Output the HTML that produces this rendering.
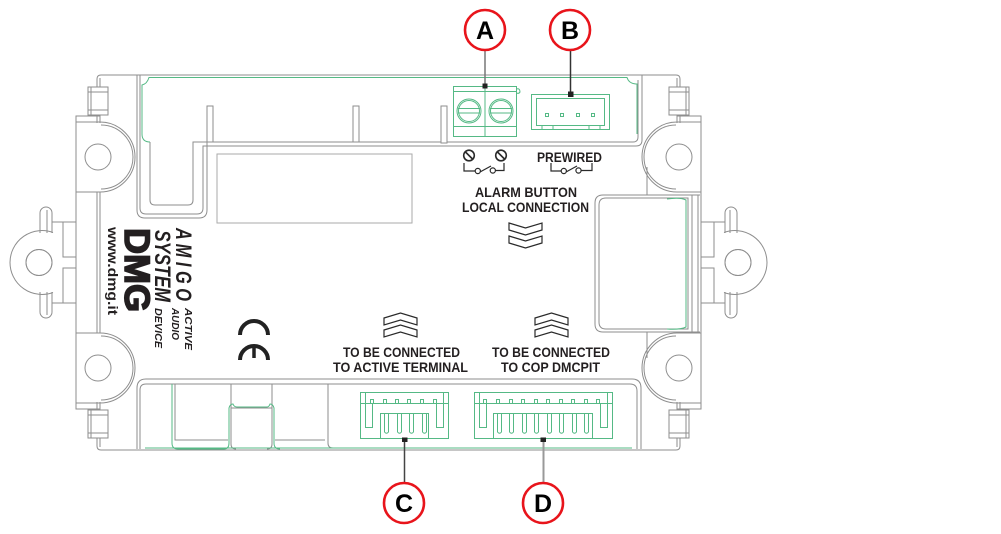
<!DOCTYPE html>
<html><head><meta charset="utf-8"><style>
html,body{margin:0;padding:0;background:#fff;}
svg{display:block;}
text{font-family:"Liberation Sans",Arial,sans-serif;}
</style></head><body>
<svg width="1001" height="534" viewBox="0 0 1001 534" xmlns="http://www.w3.org/2000/svg">
<defs>
<g id="q" fill="none" stroke="#8e8e8e" stroke-width="1">
  <path d="M101,75 H389"/>
  <path d="M97,123 V79 Q97,75 101,75"/>
  <path d="M100,123 V78"/>
  <rect x="88" y="87" width="20" height="28" fill="#fff"/>
  <path d="M88,92 H108 M88,110 H108 M91,87 V115"/>
  <path d="M76,263 V116 H100 M76,122 H100 M76,192 H100"/>
  <path d="M100,122 A35,35 0 0 1 100,192"/>
  <path d="M101,125 A32,32 0 0 1 101,189"/>
  <circle cx="98" cy="157" r="13"/>
  <path d="M52,233 V213 A6,6 0 0 0 40,213 V233 M47,210 V233"/>
  <path d="M52,222 H76 M63,222 V257 H76"/>
  <path d="M53,232.5 A32,32 0 0 0 10,262.5"/>
  <circle cx="39" cy="262.5" r="13"/>
</g>
</defs>

<use href="#q"/>
<use href="#q" transform="matrix(-1,0,0,1,777,0)"/>
<use href="#q" transform="matrix(1,0,0,-1,0,525)"/>
<use href="#q" transform="matrix(-1,0,0,-1,777,525)"/>

<g fill="none" stroke="#8e8e8e" stroke-width="1">
  <path d="M97,192 V333 M100,192 V333"/>
  <path d="M698,195 V332 M692,195 V332"/>
  <path d="M150,142 V200 Q150,205 155,205 H188 Q193,205 193,200 V142 H633 Q638,142 638,137 V80"/>
  <path d="M137,75 V210 Q137,218 145,218 H199 Q207,218 207,210 V142"/>
  <path d="M140,75 V208 Q140,214 146,214 H197 Q203,214 203,208 V146 H636 Q642,146 642,140 V75"/>
  <rect x="207" y="106" width="6" height="36" fill="#fff"/>
  <rect x="353" y="106" width="6" height="36" fill="#fff"/>
  <rect x="441" y="106" width="6" height="37" fill="#fff"/>
  <rect x="217" y="154" width="195" height="69" stroke="#aaa"/>
  <path d="M700,195 H603 Q595,195 595,203 V324 Q595,332 603,332 H700"/>
  <path d="M688,198 H606 Q599,198 599,205 V322 Q599,329 606,329 H688 Z"/>
  <path d="M647,167 V195 M647,332 V358"/>
  <path d="M137,449 V388 Q137,379 146,379 H632 Q641,379 641,388 V449"/>
  <path d="M140,449 V390 Q140,384 146,384 H630 Q637,384 637,391 V449"/>
  <path d="M175,384 V440 H228 M231,384 V444 Q231,449 236,449 M272,384 V444 Q272,449 267,449 M231,408 H272 M275,440 H325 M328,384 V443 Q328,448 333,448"/>
</g>

<g fill="none" stroke="#55b985" stroke-width="1">
  <path d="M150,142 Q142,142 142,134 V85 Q147,84 149,77.5 H627 Q629,84 637,84 V134"/>
  <path d="M667,199 Q680,197 686,200 V327 Q680,330 667,329"/>
  <path d="M145,448 H632"/>
  <path d="M172,384 V443 Q172,449 178,449 H224 Q229,449 229,443 V408 Q230,404 233,404 Q234,407 237,407 H267 Q269,407 270,404 Q273,404 274,408 V443 Q274,449 280,449"/>
  <rect x="453.5" y="86.5" width="63" height="50"/>
  <path d="M453.5,91.5 H516.5 M453.5,126.5 H516.5 M485,86.5 V136.5 M516.5,89 Q520,88 520,92 Q519,94 516.5,93"/>
  <circle cx="469" cy="111" r="12"/>
  <circle cx="469" cy="111" r="10.5"/>
  <circle cx="501" cy="111" r="12"/>
  <circle cx="501" cy="111" r="10.5"/>
  <path d="M458,108.5 H480 M458,113 H480 M490,108.5 H512 M490,113 H512"/>
  <rect x="531.5" y="94.5" width="78" height="35"/>
  <rect x="536.5" y="98.5" width="68" height="27"/>
  <path d="M542,125.5 V129.5 M553,125.5 V129.5 M589,125.5 V129.5 M600,125.5 V129.5"/>
  <rect x="545.5" y="113.5" width="3" height="3"/>
  <rect x="560.5" y="113.5" width="3" height="3"/>
  <rect x="576.5" y="113.5" width="3" height="3"/>
  <rect x="591.5" y="113.5" width="3" height="3"/>
  <rect x="360.5" y="392.5" width="88" height="46"/>
  <rect x="380.5" y="413.5" width="48" height="25"/>
  <path d="M365.5,392.5 V427.5 H372.5 V403.5 M360.5,403.5 H448.5 M443.5,392.5 V427.5 H436.5 V403.5"/>
  <path d="M370.5,403 V399.5 H373.5 V403 M383.5,403 V399.5 H386.5 V403 M395.5,403 V399.5 H398.5 V403 M407.5,403 V399.5 H410.5 V403 M420.5,403 V399.5 H423.5 V403 M433.5,403 V399.5 H436.5 V403"/>
  <path d="M384.5,413.5 V432 Q386.5,434.5 388.5,432 V413.5 M397.5,413.5 V432 Q399.5,434.5 401.5,432 V413.5 M409.5,413.5 V432 Q411.5,434.5 413.5,432 V413.5 M422.5,413.5 V432 Q424.5,434.5 426.5,432 V413.5"/>
  <rect x="474.5" y="392.5" width="138" height="46"/>
  <rect x="493.5" y="413.5" width="99" height="25"/>
  <path d="M479.5,392.5 V427.5 H486.5 V403.5 M474.5,403.5 H612.5 M607.5,392.5 V427.5 H600.5 V403.5"/>
  <path d="M483.5,403 V399.5 H486.5 V403 M496.5,403 V399.5 H499.5 V403 M509.5,403 V399.5 H512.5 V403 M521.5,403 V399.5 H524.5 V403 M534.5,403 V399.5 H537.5 V403 M546.5,403 V399.5 H549.5 V403 M559.5,403 V399.5 H562.5 V403 M571.5,403 V399.5 H574.5 V403 M584.5,403 V399.5 H587.5 V403 M596.5,403 V399.5 H599.5 V403"/>
  <path d="M497.5,413.5 V432 Q499.5,434.5 501.5,432 V413.5 M509.5,413.5 V432 Q511.5,434.5 513.5,432 V413.5 M522.5,413.5 V432 Q524.5,434.5 526.5,432 V413.5 M534.5,413.5 V432 Q536.5,434.5 538.5,432 V413.5 M547.5,413.5 V432 Q549.5,434.5 551.5,432 V413.5 M559.5,413.5 V432 Q561.5,434.5 563.5,432 V413.5 M572.5,413.5 V432 Q574.5,434.5 576.5,432 V413.5 M584.5,413.5 V432 Q586.5,434.5 588.5,432 V413.5"/>
</g>

<g fill="none" stroke="#2a2a2a" stroke-width="1.6">
  <circle cx="469" cy="155.5" r="5.3"/>
  <path d="M465.5,152 L472.5,159"/>
  <circle cx="501" cy="155.5" r="5.3"/>
  <path d="M497.5,152 L504.5,159"/>
</g>
<g fill="none" stroke="#2a2a2a" stroke-width="1.2">
  <path d="M464,163 V171 H475"/>
  <circle cx="477.8" cy="171" r="2.6"/>
  <path d="M480,172 L491,166"/>
  <circle cx="492.8" cy="170.5" r="2.6"/>
  <path d="M495.4,170.5 H504 V163"/>
  <path d="M551,163 V171 H561"/>
  <circle cx="563.8" cy="171" r="2.6"/>
  <path d="M566,172 L577,166"/>
  <circle cx="578.5" cy="170.5" r="2.6"/>
  <path d="M581.1,170.5 H592 V163"/>
  <path d="M509,223 L525.5,228 L542,223 L542,230 L525.5,235 L509,230 Z"/>
  <path d="M509,236 L525.5,241 L542,236 L542,243 L525.5,248 L509,243 Z"/>
  <path d="M384,318 L400.5,313 L417,318 L417,325 L400.5,320 L384,325 Z"/>
  <path d="M384,330 L400.5,325 L417,330 L417,337 L400.5,332 L384,337 Z"/>
  <path d="M535,318 L551.5,313 L568,318 L568,325 L551.5,320 L535,325 Z"/>
  <path d="M535,330 L551.5,325 L568,330 L568,337 L551.5,332 L535,337 Z"/>
</g>

<g fill="none" stroke="#222" stroke-width="4">
  <path d="M240,335 A14,14 0 0 1 268,335"/>
  <path d="M240,360 A14,14 0 0 1 268,360"/>
</g>
<path d="M254,346 V358" stroke="#222" stroke-width="3.5"/>

<g fill="#231f20" font-weight="bold">
  <text x="537" y="162" font-size="13.5" textLength="65" lengthAdjust="spacingAndGlyphs">PREWIRED</text>
  <text x="475" y="197" font-size="14" textLength="102" lengthAdjust="spacingAndGlyphs">ALARM BUTTON</text>
  <text x="462" y="212" font-size="14" textLength="127" lengthAdjust="spacingAndGlyphs">LOCAL CONNECTION</text>
  <text x="343" y="357" font-size="14" textLength="117" lengthAdjust="spacingAndGlyphs">TO BE CONNECTED</text>
  <text x="333" y="372" font-size="14" textLength="135" lengthAdjust="spacingAndGlyphs">TO ACTIVE TERMINAL</text>
  <text x="492" y="357" font-size="14" textLength="118" lengthAdjust="spacingAndGlyphs">TO BE CONNECTED</text>
  <text x="501" y="372" font-size="14" textLength="99" lengthAdjust="spacingAndGlyphs">TO COP DMCPIT</text>

  <text transform="translate(176,228) rotate(90)" font-size="22" font-style="italic" textLength="73" lengthAdjust="spacingAndGlyphs">A M I G O</text>
  <text transform="translate(155,230) rotate(90)" font-size="22" font-style="italic" textLength="72" lengthAdjust="spacingAndGlyphs">SYSTEM</text>
  <text transform="translate(185,308) rotate(90)" font-size="10" font-style="italic" textLength="42" lengthAdjust="spacingAndGlyphs">ACTIVE</text>
  <text transform="translate(172,308) rotate(90)" font-size="10" font-style="italic" textLength="32" lengthAdjust="spacingAndGlyphs">AUDIO</text>
  <text transform="translate(155,308) rotate(90)" font-size="10" font-style="italic" textLength="40" lengthAdjust="spacingAndGlyphs">DEVICE</text>
  <text transform="translate(125,228) rotate(90)" font-size="35" stroke="#231f20" stroke-width="1.6" textLength="84" lengthAdjust="spacingAndGlyphs">DMG</text>
  <text transform="translate(108,227) rotate(90)" font-size="14" textLength="88" lengthAdjust="spacingAndGlyphs">www.dmg.it</text>
</g>

<path d="M485,50 V86" stroke="#777" stroke-width="1.5"/>
<path d="M570.5,50 V94" stroke="#333" stroke-width="1.5"/>
<path d="M404.5,442 V483" stroke="#444" stroke-width="1.5"/>
<path d="M543.5,442 V483" stroke="#999" stroke-width="2"/>
<g fill="#222">
  <rect x="482.5" y="83.5" width="5" height="5"/>
  <rect x="568" y="91.5" width="5.5" height="5.5"/>
  <rect x="402" y="437.5" width="5.5" height="4.5"/>
  <rect x="540.5" y="437.5" width="5.5" height="4.5"/>
</g>

<g fill="#fff" stroke="#e8141b" stroke-width="2.6">
  <circle cx="485" cy="30" r="20"/>
  <circle cx="570" cy="30" r="20"/>
  <circle cx="404" cy="503" r="20"/>
  <circle cx="543" cy="503" r="20"/>
</g>
<g fill="#000" font-weight="bold" font-size="25" text-anchor="middle">
  <text x="485" y="39">A</text>
  <text x="570" y="39">B</text>
  <text x="404" y="512">C</text>
  <text x="543" y="512">D</text>
</g>
</svg>
</body></html>
